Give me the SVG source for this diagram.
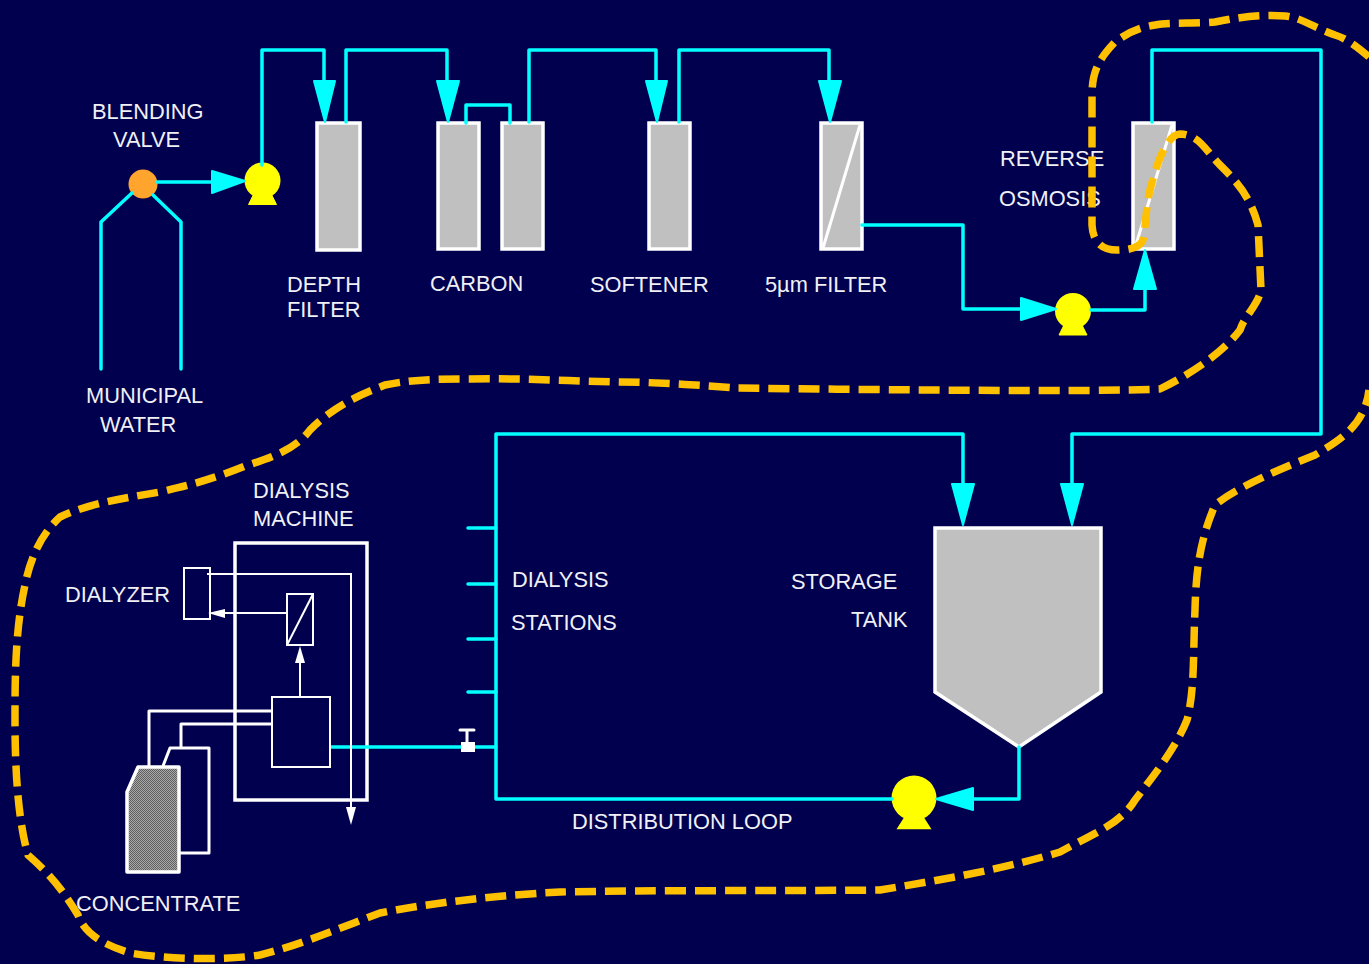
<svg xmlns="http://www.w3.org/2000/svg" width="1369" height="964" viewBox="0 0 1369 964">
<style>
text{font-family:"Liberation Sans",Arial,sans-serif;font-size:21.8px;fill:#f0f0f5}
.c{fill:none;stroke:#00ffff;stroke-width:3.5;stroke-linejoin:round;stroke-linecap:round}
.h{fill:#00ffff;stroke:#00ffff;stroke-width:2;stroke-linejoin:round}
.t{fill:#c0c0c0;stroke:#fff;stroke-width:3.5}
.w{fill:none;stroke:#fff;stroke-width:2}
.wt{fill:none;stroke:#fff;stroke-width:3;stroke-linejoin:round}
.wh{fill:#fff;stroke:none}
.p{fill:#ffff00}
.d{fill:none;stroke:#ffc000;stroke-width:7.5;stroke-dasharray:21 9;stroke-linejoin:round}
</style>
<defs>
<pattern id="hatch" width="2" height="2" patternUnits="userSpaceOnUse"><rect width="2" height="2" fill="#a8a8a8"/><rect width="1" height="1" fill="#606060"/><rect x="1" y="1" width="1" height="1" fill="#606060"/></pattern>
<g id="pump"><circle cx="0" cy="0" r="18"/><path d="M-8 12L-14 24H14L8 12Z" stroke="#ffff00" stroke-width="1" stroke-linejoin="round"/></g>
</defs>
<rect width="1369" height="964" fill="#00004f"/>
<g id="blending-valve"><circle cx="143" cy="184" r="14.5" fill="#ffa52e"/></g>
<g id="pump-1" class="p"><use href="#pump" x="262.500" y="180.500"/></g>
<g id="pump-2" class="p"><use href="#pump" x="1073" y="311"/></g>
<g id="pump-3" class="p"><g transform="translate(914 798) scale(1.25)"><circle r="18"/><path d="M-7 14L-14 25H14L7 14Z"/></g></g>
<g id="depth-filter"><rect class="t" x="317" y="123" width="43" height="127"/></g>
<g id="carbon-1"><rect class="t" x="438" y="123" width="41" height="126"/></g>
<g id="carbon-2"><rect class="t" x="502" y="123" width="41" height="126"/></g>
<g id="softener"><rect class="t" x="649" y="123" width="41" height="126"/></g>
<g id="filter-5um"><rect class="t" x="821" y="123" width="41" height="126"/><path d="M860 125L823 248" stroke="#fff" stroke-width="3"/></g>
<g id="reverse-osmosis"><rect class="t" x="1133" y="123" width="41" height="126"/><path d="M1172 125L1135 248" stroke="#fff" stroke-width="3"/></g>
<g id="storage-tank"><path d="M935 528H1101V692L1019 747L935 692Z" fill="#c0c0c0" stroke="#fff" stroke-width="3.500"/></g>
<g id="dialysis-machine"><rect x="235" y="543" width="132" height="257" fill="none" stroke="#fff" stroke-width="3.500"/></g>
<g id="connectors">
<path class="c" d="M101 369V222L132 193M181 369V222L153 195"/>
<path class="c" d="M157 182H212"/>
<path class="h" d="M212 171L245 181L212 193Z"/>
<path class="c" d="M262 165V50H324V82"/>
<path class="h" d="M314 81H335L325 122Z"/>
<path class="c" d="M346 122V50H447V82"/>
<path class="h" d="M437 81H459L448 122Z"/>
<path class="c" d="M466 123V105H510V123"/>
<path class="c" d="M529 122V50H656V82"/>
<path class="h" d="M646 81H667L657 122Z"/>
<path class="c" d="M679 122V50H829V82"/>
<path class="h" d="M819 81H841L830 122Z"/>
<path class="c" d="M862 225H963V309H1022"/>
<path class="h" d="M1021 298L1056 309L1021 320Z"/>
<path class="c" d="M1091 310H1145V289"/>
<path class="h" d="M1134 289H1156L1145 250Z"/>
<path class="c" d="M1152 122V50H1321V434H1072V488"/>
<path class="h" d="M1061 484H1083L1072 525Z"/>
<path class="c" d="M963 484V434H496V799H892"/>
<path class="h" d="M952 484H974L963 525Z"/>
<path class="c" d="M468 528H496M468 584H496M468 639H496M468 692H496"/>
<path class="c" d="M331 747H496"/>
<path class="c" d="M1019 747V799H970"/>
<path class="h" d="M973 788V810L936 799Z"/>
<path class="w" d="M207 574H351V808"/>
<path class="wh" d="M346 807H356L351 825Z"/>
<path class="w" d="M287 613H224"/>
<path class="wh" d="M225 609V618L208 613Z"/>
<path class="w" d="M300 697V662"/>
<path class="wh" d="M295 663H305L300 646Z"/>
<path class="wt" d="M272 711H149V768M272 724H181V748H170L163 766M179 853H209V748H181"/>
</g>
<g id="dialyzer"><rect x="184" y="568" width="26" height="51" class="w"/></g>
<g id="ro-unit"><rect x="287" y="594" width="26" height="51" class="w"/><path class="w" d="M313 594L287 645"/></g>
<g id="control-box"><rect x="272" y="697" width="58" height="70" fill="#00004f" stroke="#fff" stroke-width="2"/></g>
<g id="concentrate-jug"><path d="M127 792L138 767H179V872H127Z" fill="url(#hatch)" stroke="#fff" stroke-width="3.500" stroke-linejoin="round"/></g>
<g id="valve"><rect x="461" y="742" width="14" height="10" fill="#fff"/><path d="M460 730H474M467 730V742" stroke="#fff" stroke-width="3" stroke-linecap="round"/></g>
<g id="labels">
<text x="92" y="119">BLENDING</text>
<text x="113" y="147">VALVE</text>
<text x="86" y="403">MUNICIPAL</text>
<text x="100" y="432">WATER</text>
<text x="287" y="292">DEPTH</text>
<text x="287" y="317">FILTER</text>
<text x="430" y="291">CARBON</text>
<text x="590" y="292">SOFTENER</text>
<text x="765" y="292">5µm FILTER</text>
<text x="1000" y="166">REVERSE</text>
<text x="999" y="206">OSMOSIS</text>
<text x="253" y="498">DIALYSIS</text>
<text x="253" y="526">MACHINE</text>
<text x="65" y="602">DIALYZER</text>
<text x="512" y="587">DIALYSIS</text>
<text x="511" y="630">STATIONS</text>
<text x="791" y="589">STORAGE</text>
<text x="851" y="627">TANK</text>
<text x="572" y="829">DISTRIBUTION LOOP</text>
<text x="76" y="911">CONCENTRATE</text>
</g>
<g id="boundary">
<path class="d" d="M1369 57C1355 45 1345 38 1335 35C1315 28 1300 17 1285 16C1260 14 1235 18 1215 22C1195 24 1170 22 1155 25C1135 28 1125 35 1115 42C1100 58 1092 70 1092 95V225C1093 245 1105 251 1120 250C1130 250 1140 247 1143 240C1146 225 1146 205 1150 190C1155 170 1165 135 1180 134C1200 135 1205 150 1220 165C1235 180 1250 195 1258 225L1261 290C1258 305 1245 315 1240 330C1225 350 1195 372 1160 389C1100 392 900 390 735 388C700 385 650 382 620 382C570 381 520 378 470 379C430 379 410 380 385 385C360 395 335 405 310 430C295 450 270 458 245 466C210 480 190 485 160 492C125 498 90 503 60 517C40 535 30 560 25 585C15 630 15 680 15 720C15 770 18 820 28 855C45 870 60 885 78 915C85 935 105 945 130 953C170 960 230 960 260 955C300 945 340 928 380 913C430 903 500 895 560 892C650 890 800 891 880 890C940 880 1000 870 1060 852C1090 835 1120 825 1135 800C1150 780 1175 750 1187 720C1195 690 1193 650 1195 610C1196 570 1200 540 1215 505C1240 485 1290 465 1315 455C1340 440 1365 425 1369 390"/>
</g>
</svg>
